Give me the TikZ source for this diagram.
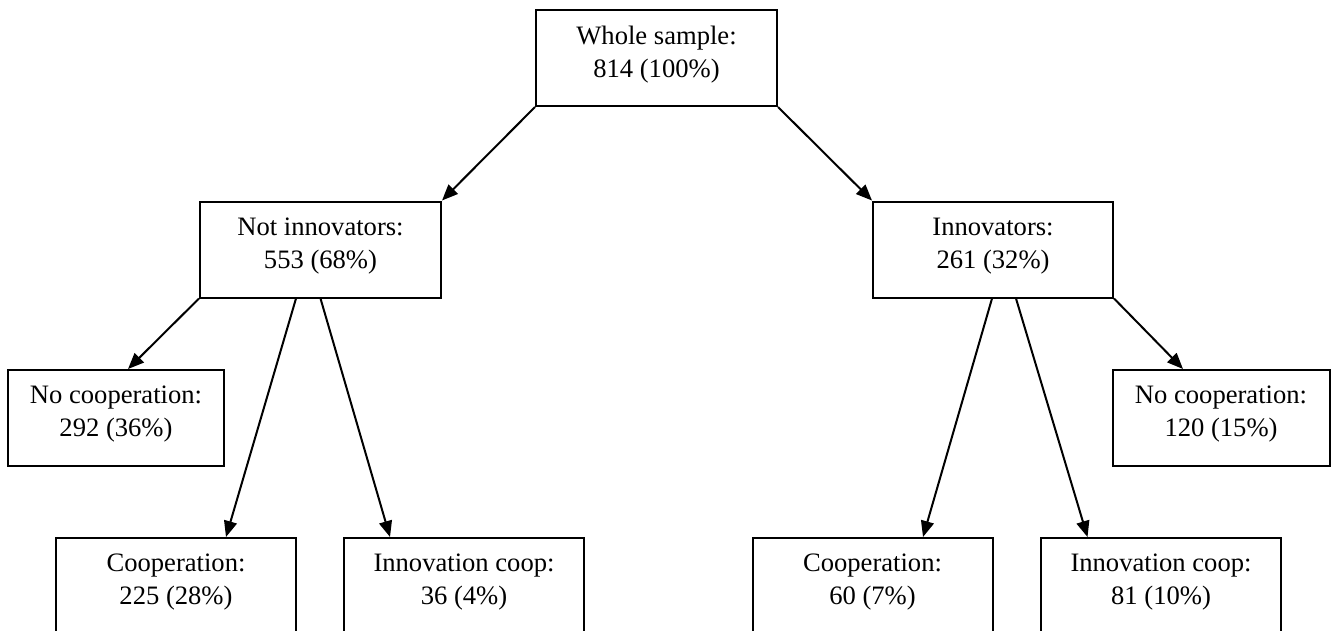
\documentclass[tikz,border=0pt]{standalone}
\usepackage{fontspec}
\setmainfont{Liberation Serif}
\usetikzlibrary{arrows.meta}
\tikzset{
  box/.style={draw=black, line width=2pt, rectangle, minimum height=96pt, inner sep=0pt},
  lbl/.style={align=center, inner sep=0pt, font=\fontsize{26.6}{33}\selectfont},
  conn/.style={line width=2pt, -{Triangle[length=16pt,width=13pt]}}
}
\begin{document}
\begin{tikzpicture}[x=1pt,y=-1pt]
\clip (0,0) rectangle (1332,630);
\fill[white] (0,0) rectangle (1332,630);
% boxes
\node[box, minimum width=241pt] (ws) at (656.5,58) {};
\node[box, minimum width=241pt] (ni) at (320.5,249.5) {};
\node[box, minimum width=240pt] (in) at (993,249.5) {};
\node[box, minimum width=216pt] (ncL) at (116,418) {};
\node[box, minimum width=217pt] (ncR) at (1221,418) {};
\node[box, minimum width=240pt] (coL) at (176,586) {};
\node[box, minimum width=240pt] (icL) at (464,586) {};
\node[box, minimum width=240pt] (coR) at (872.5,586) {};
\node[box, minimum width=240pt] (icR) at (1161,586) {};
% labels
\node[lbl] (tws) at ([yshift=3.7pt]ws.center) {Whole sample:\\814 (100\%)};
\node[lbl] (tni) at ([yshift=3.7pt]ni.center) {Not innovators:\\553 (68\%)};
\node[lbl] (tin) at ([yshift=3.7pt]in.center) {Innovators:\\261 (32\%)};
\node[lbl] (tncL) at ([yshift=3.7pt]ncL.center) {No cooperation:\\292 (36\%)};
\node[lbl] (tncR) at ([yshift=3.7pt]ncR.center) {No cooperation:\\120 (15\%)};
\node[lbl] (tcoL) at ([yshift=3.7pt]coL.center) {Cooperation:\\225 (28\%)};
\node[lbl] (ticL) at ([yshift=3.7pt]icL.center) {Innovation coop:\\36 (4\%)};
\node[lbl] (tcoR) at ([yshift=3.7pt]coR.center) {Cooperation:\\60 (7\%)};
\node[lbl] (ticR) at ([yshift=3.7pt]icR.center) {Innovation coop:\\81 (10\%)};
% connectors
\draw[conn] (ws.south west) -- (ni.north east);
\draw[conn] (ws.south east) -- (in.north west);
\draw[conn] (ni.south west) -- ([xshift=12pt]ncL.north);
\draw[conn] ([xshift=-24.5pt]ni.south) -- ([xshift=50pt]coL.north);
\draw[conn] (ni.south) -- ([xshift=-74pt]icL.north);
\draw[conn] (in.south east) -- ([xshift=-38pt]ncR.north);
\draw[conn] ([xshift=-1pt]in.south) -- ([xshift=50.5pt]coR.north);
\draw[conn] ([xshift=23pt]in.south) -- ([xshift=-73.5pt]icR.north);
\end{tikzpicture}
\end{document}
